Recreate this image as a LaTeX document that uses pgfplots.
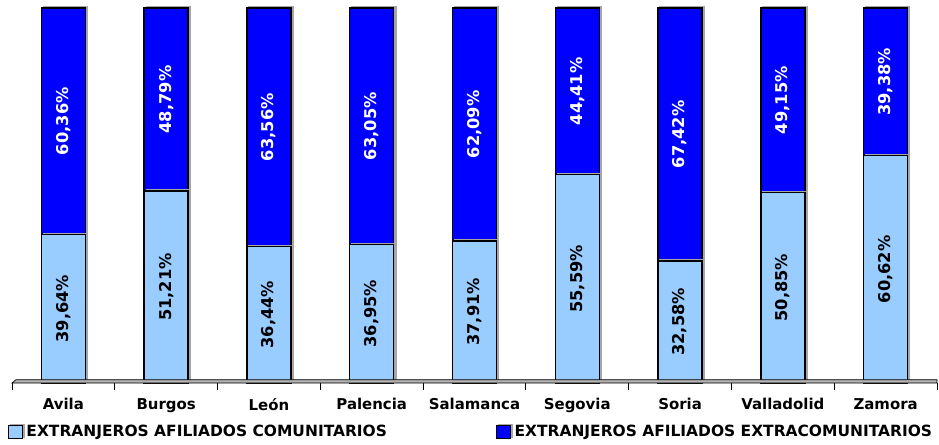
\documentclass[border=0pt]{standalone}
\usepackage{pgfplots}
\pgfplotsset{compat=1.18}
\usepackage{pgfplotstable}
\usepackage{fontspec}
\setmainfont{DejaVu Sans}
\usetikzlibrary{calc}

\definecolor{comu}{HTML}{99CCFF}
\definecolor{extra}{HTML}{0000FF}

% porcentaje de extranjeros afiliados por provincia
\pgfplotstableread{
x com ext
0 39.64 60.36
1 51.21 48.79
2 36.44 63.56
3 36.95 63.05
4 37.91 62.09
5 55.59 44.41
6 32.58 67.42
7 50.85 49.15
8 60.62 39.38
}\datos

\pgfplotsset{
    marco/.style={scale only axis, width=693.75pt, height=281.25pt,
        xmin=-0.5, xmax=8.5, ymin=0, ymax=100, clip=false},
    etiqueta/.style={draw=none, mark=none, point meta=explicit,
        nodes near coords={\pgfmathprintnumber[fixed,fixed zerofill,precision=2,use comma]{\pgfplotspointmeta}\%},
        every node near coord/.style={font=\bfseries\fontsize{12.2}{14}\selectfont,
            text=#1, anchor=center, rotate=90}},
    cuadro/.style={legend image code/.code={
        \draw[fill=#1, draw=black, line width=0.6pt] (0pt,-5pt) rectangle (10pt,5pt);
        \path (10.8pt,0pt);}},
}

\begin{document}
\begin{tikzpicture}
\begin{axis}[
    marco, name=ax,
    ybar stacked, bar width=33pt,
    axis y line=none,
    axis x line*=bottom,
    x axis line style={draw=none},
    xtick={0,1,2,3,4,5,6,7,8},
    xticklabels={Avila,Burgos,León,Palencia,Salamanca,Segovia,Soria,Valladolid,Zamora},
    major tick length=0pt,
    extra x ticks={-0.5,0.5,1.5,2.5,3.5,4.5,5.5,6.5,7.5,8.5},
    extra x tick labels={},
    extra x tick style={major tick length=5pt, tick align=outside,
        tick style={black, line width=0.6pt}},
    xticklabel style={font=\bfseries\fontsize{11.2}{13}\selectfont, yshift=-8pt},
    legend columns=2,
    legend style={at={(-0.0043,-0.1307)}, anchor=west, draw=none, fill=none,
        inner sep=0pt, font=\bfseries\fontsize{11.6}{13}\selectfont,
        /tikz/every even column/.append style={column sep=80pt}},
]
\draw[black, line width=0.5pt, fill=gray!60]
    (axis cs:-0.5,0) -- ([shift={(3pt,2.5pt)}]axis cs:-0.5,0)
    -- ([yshift=2.5pt]axis cs:8.5,0) -- (axis cs:8.5,0) -- cycle;

\addplot[fill=comu, draw=black, line width=1.1pt,
    preaction={fill=gray!70, draw=gray!70, transform canvas={xshift=1.6pt, yshift=0.8pt}},
    cuadro=comu]
    table[x=x, y=com] {\datos};
\addlegendentry{EXTRANJEROS AFILIADOS COMUNITARIOS}

\addplot[fill=extra, draw=black, line width=1.1pt,
    preaction={fill=gray!70, draw=gray!70, transform canvas={xshift=1.6pt, yshift=0.8pt}},
    cuadro=extra]
    table[x=x, y=ext] {\datos};
\addlegendentry{EXTRANJEROS AFILIADOS EXTRACOMUNITARIOS}
\end{axis}

% etiquetas centradas en cada tramo
\begin{axis}[marco, hide axis, /pgf/number format/assume math mode=true]
\addplot[etiqueta=black] table[x=x, y expr=\thisrow{com}/2, meta=com] {\datos};
\addplot[etiqueta=white] table[x=x, y expr=\thisrow{com}+\thisrow{ext}/2, meta=ext] {\datos};
\end{axis}

\pgfresetboundingbox
\path[use as bounding box] ($(ax.south west)+(-9pt,-45.75pt)$) rectangle ($(ax.north east)+(1.5pt,6pt)$);
\end{tikzpicture}
\end{document}
